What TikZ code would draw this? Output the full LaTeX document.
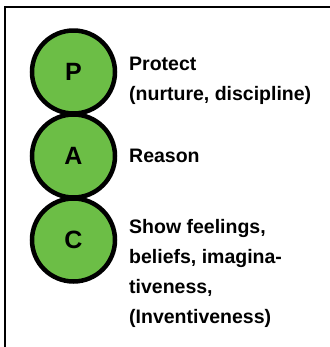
\documentclass[tikz,border=0pt]{standalone}
\usepackage{fontspec}
\setmainfont{Liberation Sans}
\definecolor{pacgreen}{RGB}{108,190,70}
\begin{document}
\begin{tikzpicture}[x=1bp,y=-1bp,
  egostate/.style={circle,draw=black,line width=4.5bp,fill=pacgreen,minimum size=83bp,inner sep=0pt,
    font=\fontsize{25bp}{25bp}\selectfont\bfseries},
  desc/.style={anchor=base west,inner sep=0pt,align=left,
    font=\fontsize{19.5bp}{30bp}\selectfont\bfseries}]
\useasboundingbox (0,0) rectangle (330,347);
\draw[line width=2bp] (5,348) -- (5,7) -- (331,7);
\node[egostate] (P) at (73.5,72) {P};
\node[egostate] (A) at (73.5,156) {A};
\node[egostate] (C) at (73.5,240) {C};
% base anchor of a multi-line node is the baseline of its last line
\node[desc] (pt) at (129,100) {Protect\\(nurture, discipline)};
\node[desc] (at) at (129,162) {Reason};
\node[desc] (ct) at (129,323) {Show feelings,\\beliefs, imagina-\\tiveness,\\(Inventiveness)};
\end{tikzpicture}
\end{document}
